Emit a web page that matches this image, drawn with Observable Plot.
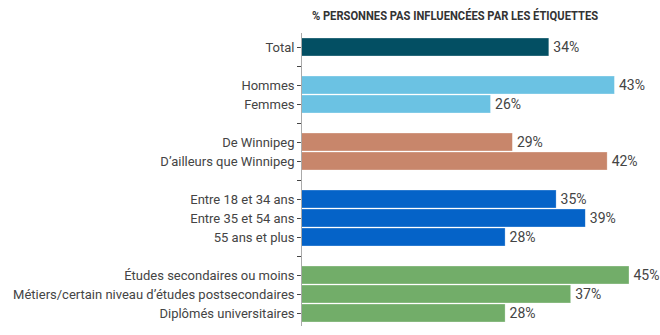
<!DOCTYPE html>
<html>
<head>
<meta charset="utf-8">
<script src="https://cdn.jsdelivr.net/npm/d3@7"></script>
<script src="https://cdn.jsdelivr.net/npm/@observablehq/plot@0.6"></script>
<style>
  body { margin: 0; background: #fff; font-family: Roboto, sans-serif; }
  #title { height: 30px; position: relative; }
  #title span { position: absolute; left: 455px; top: 9px; transform: translateX(-50%) scaleX(0.93);
    white-space: nowrap; font-weight: 700; font-size: 12px; color: #333; }
</style>
</head>
<body>
<div id="title"><span>% PERSONNES PAS INFLUENCÉES PAR LES ÉTIQUETTES</span></div>
<div id="chart"></div>
<script>
const slots = ["Total", "gap1", "Hommes", "Femmes", "gap2", "De Winnipeg", "D’ailleurs que Winnipeg", "gap3",
  "Entre 18 et 34 ans", "Entre 35 et 54 ans", "55 ans et plus", "gap4",
  "Études secondaires ou moins", "Métiers/certain niveau d’études postsecondaires", "Diplômés universitaires"];
const categories = ["Total", "Hommes", "Femmes", "De Winnipeg", "D’ailleurs que Winnipeg",
  "Entre 18 et 34 ans", "Entre 35 et 54 ans", "55 ans et plus",
  "Études secondaires ou moins", "Métiers/certain niveau d’études postsecondaires", "Diplômés universitaires"];
const values = [34, 43, 26, 29, 42, 35, 39, 28, 45, 37, 28];
const groups = ["total", "sexe", "sexe", "lieu", "lieu", "age", "age", "age", "educ", "educ", "educ"];
const groupNames = ["total", "sexe", "lieu", "age", "educ"];
const groupColors = ["#034f63", "#6bc2e3", "#c8866b", "#0563c8", "#72ad69"];

const data = categories.map((c, i) => ({cat: c, value: values[i], group: groups[i]}));

const chart = Plot.plot({
  width: 660,
  height: 305,
  marginLeft: 301,
  marginRight: 31,
  marginTop: 3,
  marginBottom: 9,
  style: {fontFamily: "Roboto, sans-serif", fontSize: "13px", color: "#444"},
  x: {domain: [0, 45], axis: null},
  y: {domain: slots, padding: 0.07, label: null, tickSize: 4, tickPadding: 3,
      tickFormat: d => d.startsWith("gap") ? "" : d},
  color: {domain: groupNames, range: groupColors},
  marks: [
    Plot.barX(data, {x: "value", y: "cat", fill: "group", stroke: "white", strokeWidth: 0.6, strokeOpacity: 0.5}),
    Plot.text(data, {x: "value", y: "cat", text: d => d.value + "%", textAnchor: "start", dx: 4, fill: "#444", fontSize: 14}),
    Plot.ruleX([0], {stroke: "#aaa"})
  ]
});
document.getElementById("chart").appendChild(chart);
</script>
</body>
</html>
